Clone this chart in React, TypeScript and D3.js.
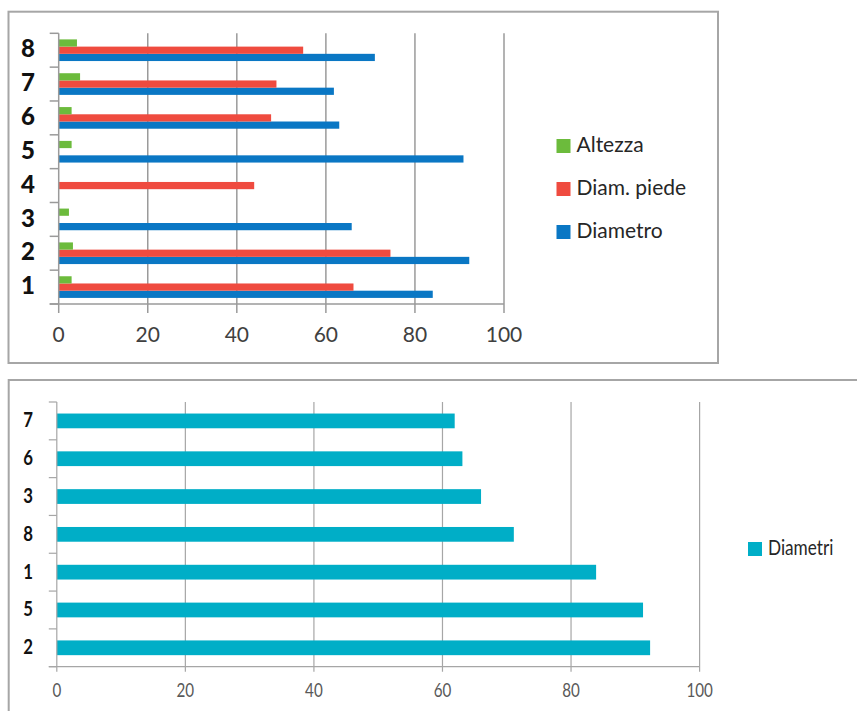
import React from 'react';
import * as d3 from 'd3';

// top chart: clustered bars per plant
const CATEGORIES = ['1', '2', '3', '4', '5', '6', '7', '8'];
const DIAMETRO = [84, 92.2, 65.8, null, 90.9, 63, 61.8, 71];
const DIAM_PIEDE = [66.2, 74.5, null, 43.9, null, 47.7, 48.9, 54.9];
const ALTEZZA = [2.9, 3.2, 2.3, null, 2.9, 2.9, 4.8, 4.1];
const SERIES_NAMES = ['Diametro', 'Diam. piede', 'Altezza'];
const SERIES_COLORS = ['#0a77c4', '#ef4b3f', '#6cbb3c'];

// bottom chart: diameters sorted
const SORTED_CATEGORIES = ['2', '5', '1', '8', '3', '6', '7'];
const DIAMETRI = [92.3, 91.2, 83.9, 71.1, 66, 63.1, 61.9];
const SORTED_NAME = 'Diametri';
const SORTED_COLOR = '#00aec7';

const X_TICKS = [0, 20, 40, 60, 80, 100];

const FONT = 'Lato, "Open Sans", sans-serif';

function TopChart() {
  const left = 58.7, right = 504, top = 33.3, bottom = 304;
  const x = d3.scaleLinear().domain([0, 100]).range([left, right]);
  // category 1 at the bottom
  const y = d3.scaleBand<string>()
    .domain([...CATEGORIES].reverse())
    .range([top, bottom])
    .paddingInner(0.36)
    .paddingOuter(0.18);
  const allSeries = [DIAMETRO, DIAM_PIEDE, ALTEZZA];
  // series 0 at the bottom of each group
  const inner = d3.scaleBand<number>()
    .domain([2, 1, 0])
    .range([0, y.bandwidth()]);
  const step = (bottom - top) / CATEGORIES.length;
  const boundaries = d3.range(CATEGORIES.length + 1).map(i => top + i * step);

  return (
    <g>
      <rect x={8.5} y={11.7} width={709.5} height={351.3} fill="#fff" stroke="#a6a6a6" strokeWidth={2} />
      {X_TICKS.slice(1).map(t => (
        <line key={t} x1={x(t)} x2={x(t)} y1={top} y2={bottom + 9} stroke="#9a9a9a" strokeWidth={1.5} />
      ))}
      {allSeries.map((vals, si) =>
        vals.map((v, ci) => v == null ? null : (
          <rect
            key={`${si}-${ci}`}
            x={x(0)}
            y={(y(CATEGORIES[ci]) as number) + (inner(si) as number)}
            width={x(v) - x(0)}
            height={inner.bandwidth()}
            fill={SERIES_COLORS[si]}
          />
        ))
      )}
      <line x1={x(0)} x2={x(0)} y1={top} y2={bottom + 9} stroke="#9a9a9a" strokeWidth={1.5} />
      <line x1={left - 9} x2={right} y1={bottom} y2={bottom} stroke="#9a9a9a" strokeWidth={1.5} />
      {boundaries.map((b, i) => (
        <line key={i} x1={left - 9} x2={left} y1={b} y2={b} stroke="#9a9a9a" strokeWidth={1.5} />
      ))}
      {CATEGORIES.map(c => (
        <text key={c} x={35} y={(y(c) as number) + y.bandwidth() / 2 + 1} textAnchor="end" dominantBaseline="middle"
          fontFamily={FONT} fontWeight={900} fontSize={24} fill="#111">{c}</text>
      ))}
      {X_TICKS.map(t => (
        <text key={t} x={x(t)} y={337} textAnchor="middle" dominantBaseline="middle"
          fontFamily={FONT} fontSize={21} fill="#404040">{t}</text>
      ))}
      {[2, 1, 0].map((si, i) => (
        <g key={si} transform={`translate(556.5,${146 + i * 43})`}>
          <rect x={0} y={-7} width={14} height={14} fill={SERIES_COLORS[si]} />
          <text x={20} y={1} dominantBaseline="middle" fontFamily={FONT} fontSize={21} fill="#262626">{SERIES_NAMES[si]}</text>
        </g>
      ))}
    </g>
  );
}

function BottomChart() {
  const left = 56.8, right = 699.6, top = 402, bottom = 666.7;
  const x = d3.scaleLinear().domain([0, 100]).range([left, right]);
  const y = d3.scaleBand<string>()
    .domain([...SORTED_CATEGORIES].reverse())
    .range([top, bottom])
    .paddingInner(0.61)
    .paddingOuter(0.305);
  const step = (bottom - top) / SORTED_CATEGORIES.length;
  const boundaries = d3.range(SORTED_CATEGORIES.length + 1).map(i => top + i * step);

  return (
    <g>
      <rect x={8.7} y={380} width={870} height={360} fill="#fff" stroke="#a6a6a6" strokeWidth={2} />
      {X_TICKS.slice(1).map(t => (
        <line key={t} x1={x(t)} x2={x(t)} y1={top} y2={bottom + 5} stroke="#a6a6a6" strokeWidth={1.2} />
      ))}
      {DIAMETRI.map((v, i) => (
        <rect key={i} x={x(0)} y={y(SORTED_CATEGORIES[i]) as number} width={x(v) - x(0)} height={y.bandwidth()} fill={SORTED_COLOR} />
      ))}
      <line x1={x(0)} x2={x(0)} y1={top} y2={bottom + 5} stroke="#a6a6a6" strokeWidth={1.2} />
      <line x1={left - 8} x2={right} y1={bottom} y2={bottom} stroke="#a6a6a6" strokeWidth={1.2} />
      {boundaries.map((b, i) => (
        <line key={i} x1={left - 8} x2={left} y1={b} y2={b} stroke="#a6a6a6" strokeWidth={1.2} />
      ))}
      {SORTED_CATEGORIES.map(c => (
        <text key={c} transform={`translate(33,${(y(c) as number) + y.bandwidth() / 2 + 1}) scale(0.8,1)`}
          textAnchor="end" dominantBaseline="middle"
          fontFamily={FONT} fontWeight="bold" fontSize={21} fill="#111">{c}</text>
      ))}
      {X_TICKS.map(t => (
        <text key={t} transform={`translate(${x(t)},692) scale(0.8,1)`} textAnchor="middle" dominantBaseline="middle"
          fontFamily={FONT} fontSize={19} fill="#595959">{t}</text>
      ))}
      <g transform="translate(748,549)">
        <rect x={0} y={-7} width={14} height={14} fill={SORTED_COLOR} />
        <text transform="translate(20,1) scale(0.82,1)" dominantBaseline="middle" fontFamily={FONT} fontSize={21} fill="#262626">{SORTED_NAME}</text>
      </g>
    </g>
  );
}

export default function App() {
  return (
    <div style={{ position: 'absolute', left: 0, top: 0 }}>
      <svg width={857} height={711} style={{ display: 'block', background: '#fff' }}>
        <TopChart />
        <BottomChart />
      </svg>
    </div>
  );
}
